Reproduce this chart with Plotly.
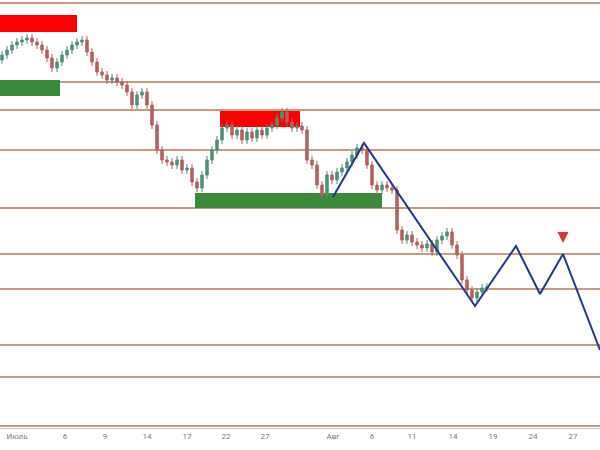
import plotly.graph_objects as go

closes = [395,400,405,408,410,412,408,405,400,392,382,388,395,400,405,408,410,398,388,378,
          375,370,372,368,365,358,345,355,358,345,325,300,290,288,285,290,280,282,268,262,
          275,290,300,310,322,325,315,320,310,318,312,320,315,322,325,332,338,328,322,324,
          320,290,285,265,255,275,270,278,282,288,295,302,300,285,265,260,265,262,260,220,
          210,215,208,205,202,206,198,210,214,218,205,195,170,160,152,158,162,163]
first_open = 390
levels = [447, 368, 340, 300, 242, 196, 161, 105, 73, 24]
tick_pos = [3, 12.6, 20.6, 29, 37, 44.8, 52.6, 66.2, 74, 82, 90.2, 98.2, 106.2, 114.2]
tick_txt = ["Июль", "6", "9", "14", "17", "22", "27", "Авг", "6", "11", "14", "19", "24", "27"]
zig_x = [66.2, 72.4, 94.6, 102.8, 107.6, 112.2, 119.6]
zig_y = [253, 307, 144, 204, 156, 196, 100]
zones = [(-0.5, 15, 418, 435, "#ff0000"), (-0.5, 11.6, 354, 370, "#3a8a3a"),
         (43.6, 59.6, 323, 339, "#ff0000"), (38.6, 76, 242, 257, "#3a8a3a")]

idx = list(range(len(closes)))
opens = [first_open] + closes[:-1]
highs = [max(o, c) + 4 for o, c in zip(opens, closes)]
lows = [min(o, c) - 4 for o, c in zip(opens, closes)]

fig = go.Figure()
for x0, x1, y0, y1, col in zones:
    fig.add_shape(type="rect", x0=x0, x1=x1, y0=y0, y1=y1, fillcolor=col, line_width=0, layer="below")
for lv in levels:
    fig.add_shape(type="line", xref="paper", x0=0, x1=1, y0=lv, y1=lv, line=dict(color="#b07a5a", width=1.3), layer="below")
fig.add_trace(go.Candlestick(x=idx, open=opens, high=highs, low=lows, close=closes,
                             increasing=dict(line=dict(color="#4f8f78", width=1), fillcolor="#4f8f78"),
                             decreasing=dict(line=dict(color="#b56060", width=1), fillcolor="#b56060"),
                             whiskerwidth=0, showlegend=False))
fig.add_trace(go.Scatter(x=zig_x, y=zig_y, mode="lines", line=dict(color="#1f3a8a", width=2), showlegend=False))
fig.add_trace(go.Scatter(x=[zig_x[5]], y=[zig_y[5] + 11], mode="markers",
                         marker=dict(symbol="arrow-down", size=11, color="#e03030"), showlegend=False))

fig.update_layout(width=600, height=450, margin=dict(l=0, r=0, t=0, b=22, autoexpand=False),
                  plot_bgcolor="white", paper_bgcolor="white",
                  xaxis=dict(range=[-0.4, 119.6], tickvals=tick_pos, ticktext=tick_txt, showgrid=False,
                             rangeslider=dict(visible=False), zeroline=False, showline=True,
                             linecolor="#c8c8c8", automargin=False,
                             tickfont=dict(size=8, color="#777", family="Roboto")),
                  yaxis=dict(range=[22, 450], visible=False, automargin=False))
fig.write_html("out.html", config={"displayModeBar": False},
               post_script="document.body.style.margin='0';document.body.style.overflow='hidden';")
